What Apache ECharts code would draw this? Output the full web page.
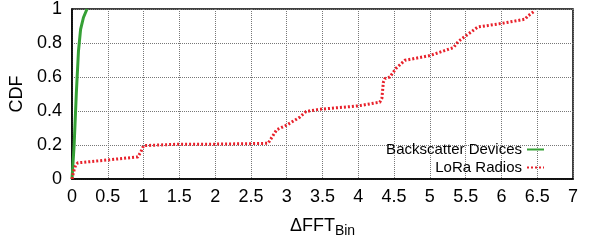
<!DOCTYPE html>
<html>
<head>
<meta charset="utf-8">
<style>
  html, body { margin: 0; padding: 0; background: #fff; }
  #chart { width: 590px; height: 243px; }
</style>
<script src="https://cdn.jsdelivr.net/npm/echarts@6/dist/echarts.min.js"></script>
</head>
<body>
<div id="chart"></div>
<script>
// 数据
var seriesNames = ['Backscatter Devices', 'LoRa Radios'];
var bsX = [0, 0.03, 0.06, 0.09, 0.12, 0.16, 0.21];
var bsY = [0, 0.2, 0.5, 0.75, 0.88, 0.95, 1.0];
var loraX = [0, 0.02, 0.05, 0.08, 0.5, 0.92, 0.96, 1.0, 1.5, 2.0, 2.5, 2.74, 2.86, 3.0, 3.18, 3.27, 3.46, 4.0, 4.3, 4.33, 4.35, 4.37, 4.44, 4.53, 4.65, 5.0, 5.33, 5.4, 5.47, 5.67, 6.0, 6.33, 6.37, 6.47];
var loraY = [0, 0.04, 0.08, 0.095, 0.112, 0.13, 0.158, 0.196, 0.205, 0.205, 0.208, 0.21, 0.29, 0.317, 0.363, 0.397, 0.41, 0.43, 0.452, 0.475, 0.568, 0.59, 0.6, 0.652, 0.698, 0.726, 0.773, 0.81, 0.832, 0.894, 0.915, 0.94, 0.959, 0.99];

function pairs(xs, ys) {
    var out = [];
    for (var i = 0; i < xs.length; i++) {
        out.push([xs[i], ys[i]]);
    }
    return out;
}

var font = 'Liberation Sans, Arial, sans-serif';
var green = '#36a036';
var red = '#e8212b';

function legendOpt(name, top) {
    return {
        data: [name],
        right: 40, top: top,
        align: 'right',
        itemWidth: 17, itemHeight: 12,
        itemStyle: { opacity: 0 },
        textStyle: { fontFamily: font, fontSize: 15, color: '#000' }
    };
}

var chart = echarts.init(document.getElementById('chart'));
chart.setOption({
    animation: false,
    grid: {
        left: 72, right: 17, top: 6, bottom: 58,
        show: true, borderColor: '#000', borderWidth: 1.5, backgroundColor: 'transparent'
    },
    legend: [
        legendOpt(seriesNames[0], 137),
        legendOpt(seriesNames[1], 155)
    ],
    xAxis: {
        type: 'value', min: 0, max: 7, interval: 0.5,
        name: '{a|ΔFFT}{b|Bin}',
        nameLocation: 'middle', nameGap: 35,
        nameTextStyle: {
            rich: {
                a: { fontFamily: font, fontSize: 18, color: '#000' },
                b: { fontFamily: font, fontSize: 14, color: '#000', padding: [10, 0, 0, 0] }
            }
        },
        axisLine: { lineStyle: { color: '#000', width: 1.5 } },
        axisTick: { show: false },
        axisLabel: { margin: 9, fontFamily: font, fontSize: 18, color: '#000' },
        splitLine: { show: true, lineStyle: { color: '#777', type: 'dotted' } }
    },
    yAxis: {
        type: 'value', min: 0, max: 1, interval: 0.2,
        name: 'CDF',
        nameLocation: 'middle', nameGap: 42,
        nameTextStyle: { fontFamily: font, fontSize: 18, color: '#000' },
        axisLine: { lineStyle: { color: '#000', width: 1.5 } },
        axisTick: { show: false },
        axisLabel: { margin: 10, fontFamily: font, fontSize: 18, color: '#000' },
        splitLine: { show: true, lineStyle: { color: '#777', type: 'dotted' } }
    },
    series: [
        {
            name: seriesNames[0],
            type: 'line',
            data: pairs(bsX, bsY),
            showSymbol: false,
            lineStyle: { color: green, width: 3 },
            itemStyle: { color: green }
        },
        {
            name: seriesNames[1],
            type: 'line',
            data: pairs(loraX, loraY),
            showSymbol: false,
            lineStyle: { color: red, width: 3, type: [2, 2] },
            itemStyle: { color: red }
        }
    ]
});
</script>
</body>
</html>
